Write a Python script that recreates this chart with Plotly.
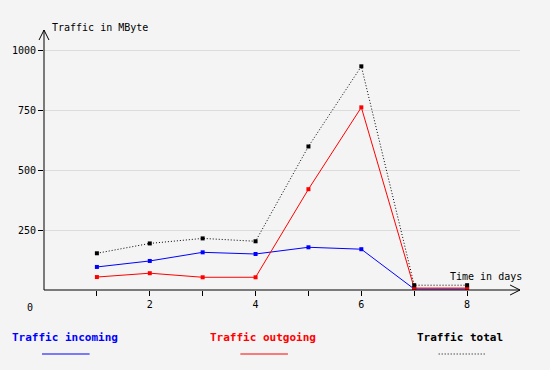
import plotly.graph_objects as go

days = [1, 2, 3, 4, 5, 6, 7, 8]
incoming = [96, 121, 157, 150, 178, 170, 4, 4]
outgoing = [54, 70, 53, 53, 420, 761, 8, 8]
total = [153, 194, 215, 203, 598, 932, 20, 20]

x_tickvals = [1, 2, 3, 4, 5, 6, 7, 8]
x_ticktext = ["", "2", "", "4", "", "6", "", "8"]
y_tickvals = [250, 500, 750, 1000]
y_ticktext = ["250", "500", "750", "1000"]

W, H = 550, 370
L, R, T, B = 40, 520, 30, 290  # plot area in pixels
XMAX = 9.0
YMAX = 1000 * (B - T) / 240.0

def px(x):
    return (x - L) / (R - L)

def py(y):
    return (B - y) / (B - T)

MONO = "DejaVu Sans Mono"
BG = "#f4f4f4"
DOT = "1px,2px"

fig = go.Figure()
fig.add_trace(go.Scatter(x=days, y=incoming, mode="lines+markers", name="Traffic incoming",
                         line=dict(color="#0000ff", width=1),
                         marker=dict(symbol="square", size=4, color="#0000ff")))
fig.add_trace(go.Scatter(x=days, y=outgoing, mode="lines+markers", name="Traffic outgoing",
                         line=dict(color="#ff0000", width=1),
                         marker=dict(symbol="square", size=4, color="#ff0000")))
fig.add_trace(go.Scatter(x=days, y=total, mode="lines+markers", name="Traffic total",
                         line=dict(color="#000000", width=1, dash=DOT),
                         marker=dict(symbol="square", size=4, color="#000000")))

shapes = []
# axis arrows
shapes.append(dict(type="line", xref="paper", yref="paper", x0=px(35), y0=py(40), x1=px(40), y1=py(30), line=dict(color="black", width=1)))
shapes.append(dict(type="line", xref="paper", yref="paper", x0=px(45), y0=py(40), x1=px(40), y1=py(30), line=dict(color="black", width=1)))
shapes.append(dict(type="line", xref="paper", yref="paper", x0=px(40), y0=py(30), x1=px(40), y1=py(290), line=dict(color="black", width=1)))
shapes.append(dict(type="line", xref="paper", yref="paper", x0=px(510), y0=py(285), x1=px(520), y1=py(290), line=dict(color="black", width=1)))
shapes.append(dict(type="line", xref="paper", yref="paper", x0=px(510), y0=py(295), x1=px(520), y1=py(290), line=dict(color="black", width=1)))
shapes.append(dict(type="line", xref="paper", yref="paper", x0=px(40), y0=py(290), x1=px(520), y1=py(290), line=dict(color="black", width=1)))
# legend lines
shapes.append(dict(type="line", xref="paper", yref="paper", x0=px(38), y0=py(354), x1=px(86), y1=py(354), line=dict(color="#0000ff", width=1)))
shapes.append(dict(type="line", xref="paper", yref="paper", x0=px(238), y0=py(354), x1=px(286), y1=py(354), line=dict(color="#ff0000", width=1)))
shapes.append(dict(type="line", xref="paper", yref="paper", x0=px(438), y0=py(354), x1=px(486), y1=py(354), line=dict(color="#000000", width=1, dash=DOT)))

annotations = [
    dict(text="Traffic in MByte", x=px(46), y=py(27), xanchor="left", yanchor="middle"),
    dict(text="Time in days", x=px(447), y=py(276), xanchor="left", yanchor="middle"),
    dict(text="0", x=px(26), y=py(307), xanchor="center", yanchor="middle"),
    dict(text="<b>Traffic incoming</b>", x=px(6), y=py(337), xanchor="left", yanchor="middle",
         font=dict(family=MONO, size=11, color="#0000ff")),
    dict(text="<b>Traffic outgoing</b>", x=px(205), y=py(337), xanchor="left", yanchor="middle",
         font=dict(family=MONO, size=11, color="#ff0000")),
    dict(text="<b>Traffic total</b>", x=px(414), y=py(337), xanchor="left", yanchor="middle",
         font=dict(family=MONO, size=11, color="#000000")),
]
for a in annotations:
    a.update(xref="paper", yref="paper", showarrow=False)
    a.setdefault("font", dict(family=MONO, size=10, color="black"))

fig.update_layout(
    width=W, height=H,
    margin=dict(l=L, r=W - R, t=T, b=H - B, pad=0),
    paper_bgcolor=BG, plot_bgcolor=BG,
    showlegend=False,
    font=dict(family=MONO, size=10, color="black"),
    shapes=shapes,
    annotations=annotations,
    xaxis=dict(range=[0, XMAX], tickvals=x_tickvals, ticktext=x_ticktext,
               ticks="outside", ticklen=5, tickcolor="black", showgrid=False,
               zeroline=False, showline=False, fixedrange=True,
               tickfont=dict(family=MONO, size=10)),
    yaxis=dict(range=[0, YMAX], tickvals=y_tickvals, ticktext=y_ticktext,
               ticks="outside", ticklen=5, tickcolor="black", showgrid=True,
               gridcolor="#dcdcdc", gridwidth=1, zeroline=False, showline=False,
               fixedrange=True, tickfont=dict(family=MONO, size=10)),
)

fig.write_html("out.html", config={"displayModeBar": False})

with open("out.html", "r", encoding="utf-8") as f:
    html = f.read()
html = html.replace("<head>", "<head><style>html,body{margin:0;padding:0;background:%s;}</style>" % BG, 1)
with open("out.html", "w", encoding="utf-8") as f:
    f.write(html)
